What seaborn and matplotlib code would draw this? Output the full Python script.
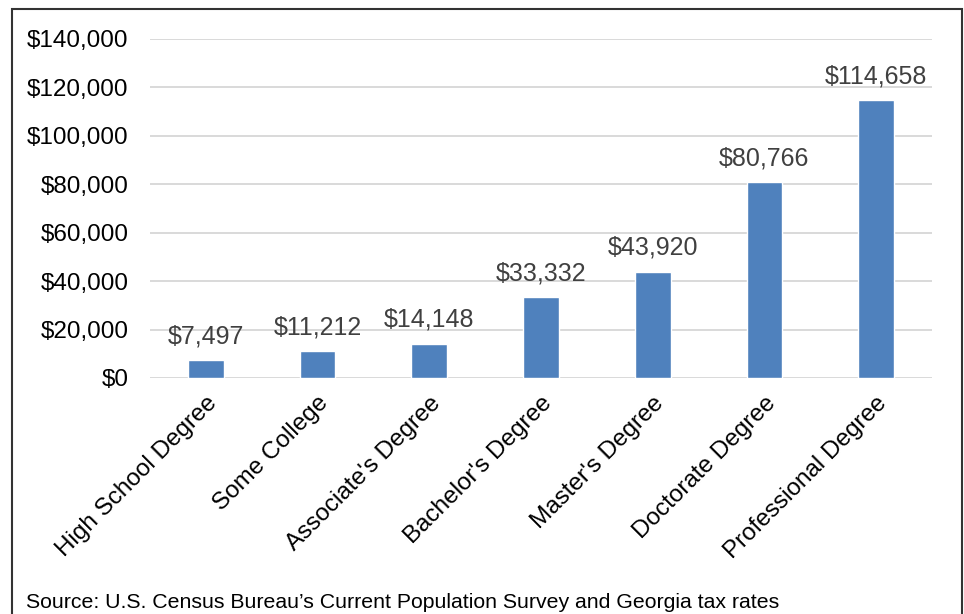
import matplotlib
matplotlib.use("Agg")
import matplotlib.pyplot as plt
import seaborn as sns
import pandas as pd
from matplotlib.patches import Rectangle
from matplotlib.ticker import FuncFormatter

degrees = ["High School Degree", "Some College", "Associate's Degree",
           "Bachelor's Degree", "Master's Degree", "Doctorate Degree",
           "Professional Degree"]
values = [7497, 11212, 14148, 33332, 43920, 80766, 114658]
source_note = "Source: U.S. Census Bureau\u2019s Current Population Survey and Georgia tax rates"

sns.set_style("white")
plt.rcParams["font.family"] = ["Liberation Sans", "DejaVu Sans"]

df = pd.DataFrame({"degree": degrees, "value": values})

fig = plt.figure(figsize=(9.64, 6.14), dpi=100)
ax = fig.add_axes([0.1556, 0.3844, 0.8112, 0.5521])

sns.barplot(data=df, x="degree", y="value", color="#4F81BD", saturation=1,
            width=0.32, ax=ax, zorder=3)

ax.set_ylim(0, 140000)
ax.set_yticks(range(0, 140001, 20000))
ax.yaxis.set_major_formatter(FuncFormatter(lambda v, p: f"${v:,.0f}"))
ax.grid(axis="y", color="#D9D9D9", linewidth=1.4, zorder=0)
ax.set_axisbelow(True)
for s in ax.spines.values():
    s.set_visible(False)
ax.set_xlabel("")
ax.set_ylabel("")
ax.tick_params(axis="both", length=0, labelsize=17.5, colors="black")
ax.tick_params(axis="y", pad=15.5)
ax.tick_params(axis="x", pad=10)
plt.setp(ax.get_xticklabels(), rotation=45, ha="right", rotation_mode="anchor")

for i, v in enumerate(values):
    ax.annotate(f"${v:,.0f}", (i, v), xytext=(0, 8.5), textcoords="offset points",
                ha="center", va="bottom", fontsize=18, color="#404040")

fig.text(0.027, 0.004, source_note, fontsize=15.3, color="black", ha="left", va="bottom")

fig.patches.append(Rectangle((0.0124, -0.02), 0.9856, 1.0053, transform=fig.transFigure,
                             fill=False, edgecolor="#333333", linewidth=1.5))

fig.savefig("out.png", dpi=100)
